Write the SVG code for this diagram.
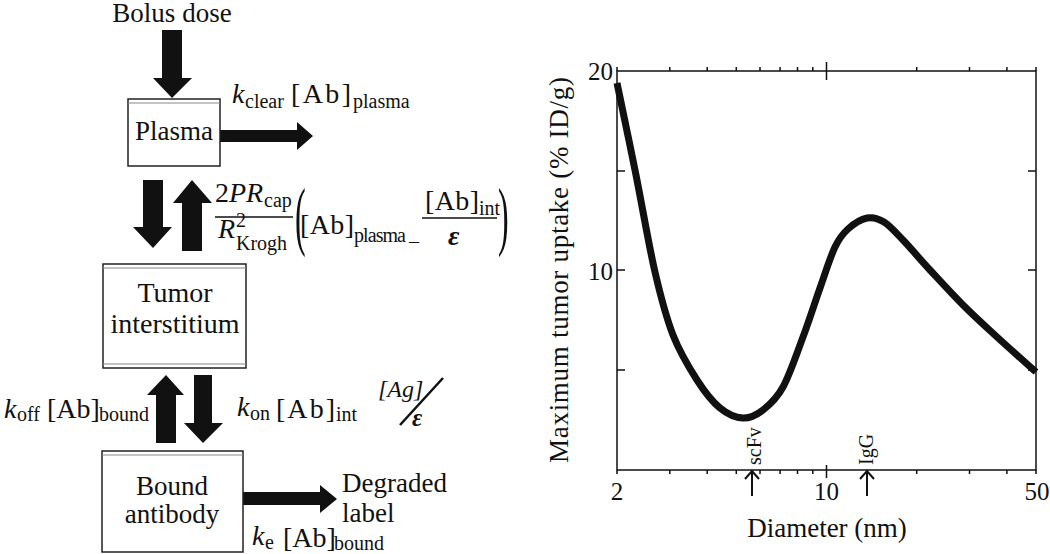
<svg xmlns="http://www.w3.org/2000/svg" width="1050" height="554" viewBox="0 0 1050 554" font-family="'Liberation Serif', 'Times New Roman', serif">
<style>
.big{font-size:27px}
.lab{font-size:28px}
.sub{font-size:20px}
.it{font-style:italic}
.box{fill:#fff;stroke:#222;stroke-width:1.5}
.dbl{stroke:#888;stroke-width:1.2}
.arr{fill:#111}
.ax{stroke:#111;stroke-width:1.5;fill:none}
.tk{stroke:#111;stroke-width:1.5}
.tick{font-size:25px}
.mk{stroke:#111;stroke-width:2;fill:none}
</style>
<rect width="1050" height="554" fill="#fff"/>

<g id="connectors">
  <polygon class="arr" points="162,30 182,30 182,78 192,78 172,98 153,78 162,78"/>
  <polygon class="arr" points="220,130 297,130 297,122 313,136 297,150 297,142 220,142"/>
  <polygon class="arr" points="143,180 163,180 163,227 172,227 153,248 133,227 143,227"/>
  <polygon class="arr" points="192,180 212,203 202,203 202,251 182,251 182,203 173,203"/>
  <polygon class="arr" points="166,375 184,395 176,395 176,443 156,443 156,395 147,395"/>
  <polygon class="arr" points="194,375 212,375 212,423 223,423 203,443 184,423 194,423"/>
  <polygon class="arr" points="243,492 320,492 320,485 337,499 320,513 320,505 243,505"/>
</g>

<g fill="#111">
<g id="bolus">
  <text class="big" x="172" y="22" text-anchor="middle">Bolus dose</text>
</g>

<g id="plasma">
  <rect class="box" x="128" y="99" width="92" height="67"/>
  <line class="dbl" x1="128" y1="103" x2="220" y2="103"/>
  <text class="big" x="174" y="140" text-anchor="middle">Plasma</text>
</g>

<g id="tumor">
  <rect class="box" x="103" y="264" width="143" height="104"/>
  <line class="dbl" x1="103" y1="268" x2="246" y2="268"/>
  <line class="dbl" x1="103" y1="364" x2="246" y2="364"/>
  <text class="big" x="175" y="302" text-anchor="middle" style="font-size:28px">Tumor</text>
  <text class="big" x="175" y="333" text-anchor="middle" style="font-size:28px">interstitium</text>
</g>

<g id="bound">
  <rect class="box" x="102" y="451" width="141" height="101"/>
  <line class="dbl" x1="102" y1="455" x2="243" y2="455"/>
  <text class="big" x="172" y="495" text-anchor="middle">Bound</text>
  <text class="big" x="172" y="523" text-anchor="middle">antibody</text>
</g>

<g id="degraded">
  <text class="big" x="342" y="492">Degraded</text>
  <text class="big" x="342" y="522">label</text>
</g>

<g id="label-clear">
  <text class="lab it" x="232" y="103">k</text>
  <text class="sub" x="245" y="108">clear</text>
  <text class="lab" x="291" y="103" textLength="60">[Ab]</text>
  <text class="sub" x="353" y="108">plasma</text>
</g>

<g id="label-transport">
  <text class="lab" x="215" y="202">2<tspan class="it">PR</tspan></text>
  <text class="sub" x="264" y="207">cap</text>
  <line class="tk" x1="215" y1="217" x2="293" y2="217"/>
  <text class="lab it" x="218" y="238">R</text>
  <text class="sub" x="236" y="227">2</text>
  <text class="sub" x="236" y="250">Krogh</text>
  <text style="font-size:32px" transform="matrix(1 0 0 2.4 295 241)">(</text>
  <text class="lab" x="300" y="234" textLength="54">[Ab]</text>
  <text class="sub" x="354" y="242" textLength="52">plasma</text>
  <text class="sub" x="409" y="248">–</text>
  <text class="lab" x="425" y="210" textLength="54">[Ab]</text>
  <text class="sub" x="479" y="215">int</text>
  <line class="tk" x1="422" y1="218" x2="497" y2="218"/>
  <text class="lab it" x="448" y="245" font-weight="bold">ε</text>
  <text style="font-size:32px" transform="matrix(1 0 0 2.4 498 241)">)</text>
</g>

<g id="label-off">
  <text class="lab it" x="4" y="418">k</text>
  <text class="sub" x="17" y="421">off</text>
  <text class="lab" x="47" y="418">[Ab]</text>
  <text class="sub" x="99" y="421">bound</text>
</g>

<g id="label-on">
  <text class="lab it" x="237" y="416">k</text>
  <text class="sub" x="250" y="420">on</text>
  <text class="lab" x="276" y="418" textLength="59">[Ab]</text>
  <text class="sub" x="336" y="421">int</text>
  <text class="it" style="font-size:24px" x="378" y="397">[Ag]</text>
  <line class="tk" x1="443" y1="378" x2="400" y2="425" style="stroke-width:2.5"/>
  <text class="it" style="font-size:25px;font-weight:bold" x="412" y="426">ε</text>
</g>

<g id="label-e">
  <text class="lab it" x="252" y="545">k</text>
  <text class="sub" x="265" y="549">e</text>
  <text class="lab" x="283" y="547">[Ab]</text>
  <text class="sub" x="334" y="550">bound</text>
</g>

<g id="plot">
  <rect class="ax" x="617" y="71" width="419" height="399"/>
  <g class="tk">
    <path d="M617 71V67M669.8 71V67M707.2 71V67M736.3 71V67M760 71V67M780.1 71V67M797.5 71V67M812.8 71V67M916.7 71V67M969.5 71V67M1006.9 71V67M1036 71V67"/>
    <path d="M826.5 62V80M826.5 465V478"/>
    <path d="M617 470V474M669.8 470V474M707.2 470V474M736.3 470V474M760 470V474M780.1 470V474M797.5 470V474M812.8 470V474M916.7 470V474M969.5 470V474M1006.9 470V474M1036 470V474"/>
    <path d="M617 171H625M617 270H625M617 370H625M1028 171H1036M1028 270H1036M1028 370H1036"/>
  </g>
  <text class="tick" x="613" y="80" text-anchor="end">20</text>
  <text class="tick" x="613" y="280" text-anchor="end">10</text>
  <text class="tick" x="617" y="500" text-anchor="middle">2</text>
  <text class="tick" x="826.5" y="500" text-anchor="middle">10</text>
  <text class="tick" x="1037" y="500" text-anchor="middle">50</text>
  <text class="big" x="827" y="537" text-anchor="middle">Diameter (nm)</text>
  <text class="big" text-anchor="middle" transform="translate(568,270) rotate(-90)" textLength="386" lengthAdjust="spacing">Maximum tumor uptake (% ID/g)</text>
  <path fill="none" stroke="#111" stroke-width="7" d="M617 83C620.2 98.3 629.7 143.5 636 175C642.3 206.5 648.8 245.3 655 272C661.2 298.7 666 317 673 335C680 353 689.2 367.8 697 380C704.8 392.2 712.3 401.7 720 408C727.7 414.3 735.8 417.7 743 418C750.2 418.3 756.3 415.2 763 410C769.7 404.8 776.3 399.2 783 387C789.7 374.8 796.8 353.5 803 337C809.2 320.5 814.7 303 820 288C825.3 273 830.3 256.8 835 247C839.7 237.2 842.7 233.8 848 229C853.3 224.2 861 219.2 867 218C873 216.8 878 218.3 884 222C890 225.7 895.3 232 903 240C910.7 248 920 259.2 930 270C940 280.8 951.8 293.8 963 305C974.2 316.2 984.8 325.8 997 337C1009.2 348.2 1029.5 366.2 1036 372"/>
  <g id="scfv">
    <path class="mk" d="M752 471V496M745 479L752 471L759 479"/>
    <text style="font-size:20px" transform="translate(761,465) rotate(-90)">scFv</text>
  </g>
  <g id="igg">
    <path class="mk" d="M867 471V496M860 479L867 471L874 479"/>
    <text style="font-size:20px" transform="translate(873,465) rotate(-90)">IgG</text>
  </g>
</g>
</g>
</svg>
